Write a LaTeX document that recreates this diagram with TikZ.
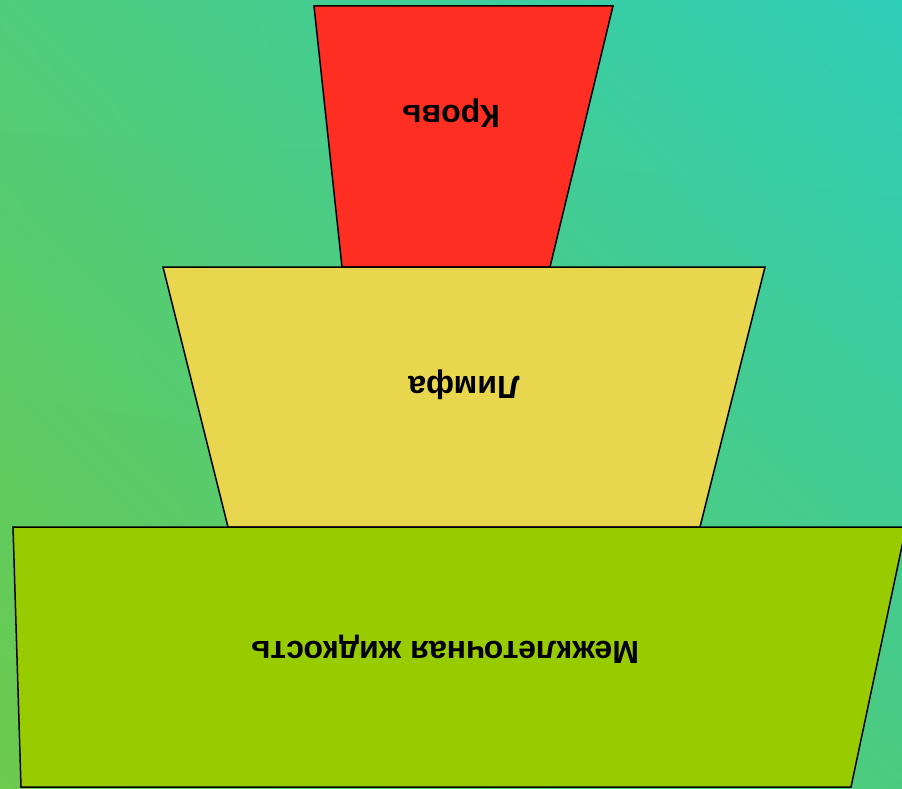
\documentclass[tikz,border=0pt]{standalone}
\usepackage{fontspec}
\setmainfont{Liberation Sans}
\usetikzlibrary{shadings}
\definecolor{redf}{HTML}{FF2E22}
\definecolor{yelf}{HTML}{E8D74E}
\definecolor{grnf}{HTML}{99CC00}
\definecolor{bgul}{HTML}{50CD7C}
\definecolor{bgur}{HTML}{2ECDB8}
\definecolor{bgll}{HTML}{6CCA4C}
\definecolor{bglr}{HTML}{4CCB80}
\begin{document}
\begin{tikzpicture}[x=1pt,y=-1pt,
  layer/.style={draw=black,line width=1.5pt,line join=miter},
  lbl/.style={font=\bfseries\fontsize{32}{38}\selectfont,rotate=180,inner sep=0}]
\useasboundingbox (0,0) rectangle (902,789);
\clip (0,0) rectangle (902,789);
\shade[upper left=bgul,upper right=bgur,lower left=bgll,lower right=bglr] (0,0) rectangle (902,789);
\draw[layer,fill=redf] (314,6) -- (613,6) -- (550,267) -- (342,267) -- cycle;
\draw[layer,fill=yelf] (163,267) -- (765,267) -- (700,527) -- (228,527) -- cycle;
\draw[layer,fill=grnf] (13,527) -- (906,527) -- (851,787) -- (21,787) -- cycle;
\node[lbl] (krov) at (451,113) {Кровь};
\node[lbl] (limfa) at (464,385) {Лимфа};
\node[lbl] (mezh) at (445,649) {Межклеточная жидкость};
\end{tikzpicture}
\end{document}
